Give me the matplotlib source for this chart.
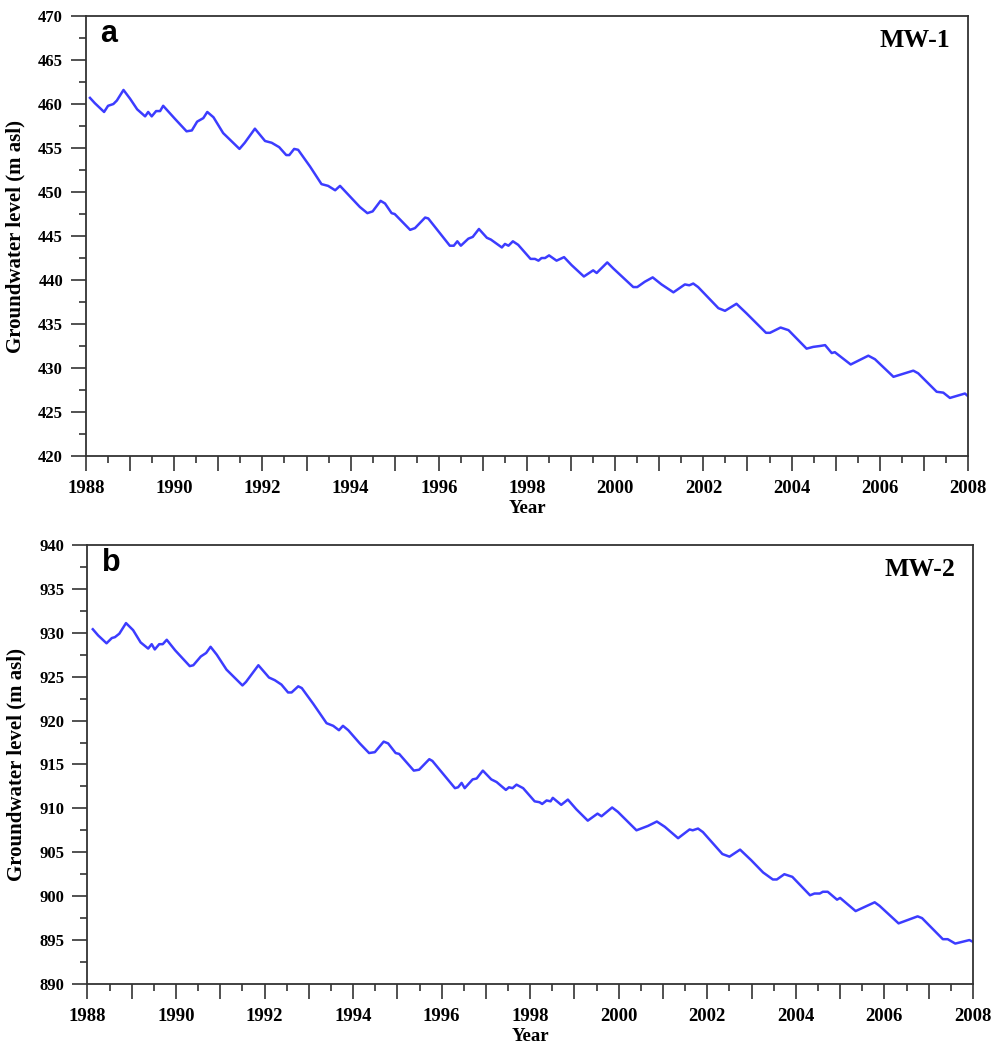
import matplotlib.pyplot as plt
from matplotlib.ticker import MultipleLocator

# ---------------------------------------------------------------------------
# Data (vertices of the hydrographs)
# ---------------------------------------------------------------------------
mw1_year = [1988.09, 1988.20, 1988.41, 1988.50, 1988.62, 1988.70, 1988.85, 1989.00,
            1989.16, 1989.34, 1989.41, 1989.49, 1989.59, 1989.68, 1989.75, 1989.84,
            1990.02, 1990.28, 1990.40, 1990.52, 1990.66, 1990.75, 1990.89, 1991.11,
            1991.48, 1991.60, 1991.83, 1992.06, 1992.21, 1992.38, 1992.54, 1992.61,
            1992.72, 1992.81, 1993.08, 1993.34, 1993.49, 1993.65, 1993.76, 1993.91,
            1994.21, 1994.38, 1994.50, 1994.68, 1994.78, 1994.93, 1995.00, 1995.35,
            1995.46, 1995.69, 1995.76, 1996.25, 1996.34, 1996.42, 1996.50, 1996.67,
            1996.77, 1996.91, 1997.09, 1997.18, 1997.43, 1997.50, 1997.58, 1997.68,
            1997.80, 1998.08, 1998.18, 1998.26, 1998.33, 1998.41, 1998.50, 1998.67,
            1998.84, 1999.01, 1999.29, 1999.50, 1999.58, 1999.82, 1999.96, 2000.41,
            2000.50, 2000.67, 2000.85, 2001.05, 2001.32, 2001.58, 2001.68, 2001.77,
            2001.88, 2002.34, 2002.49, 2002.75, 2002.98, 2003.42, 2003.51, 2003.75,
            2003.93, 2004.34, 2004.49, 2004.64, 2004.76, 2004.91, 2004.98, 2005.34,
            2005.74, 2005.89, 2006.31, 2006.76, 2006.87, 2007.29, 2007.44, 2007.59,
            2007.93, 2008.00]
mw1_level = [460.7, 460.1, 459.1, 459.8, 460.0, 460.4, 461.6, 460.6,
             459.4, 458.6, 459.1, 458.6, 459.2, 459.2, 459.8, 459.3,
             458.3, 456.9, 457.0, 458.0, 458.4, 459.1, 458.5, 456.7,
             454.9, 455.6, 457.2, 455.8, 455.6, 455.1, 454.2, 454.2,
             454.9, 454.8, 452.9, 450.9, 450.7, 450.2, 450.7, 449.9,
             448.3, 447.6, 447.8, 449.0, 448.7, 447.6, 447.5, 445.7,
             445.9, 447.1, 447.0, 443.9, 443.9, 444.4, 443.9, 444.7,
             444.9, 445.8, 444.8, 444.6, 443.7, 444.1, 443.9, 444.4,
             444.0, 442.4, 442.4, 442.2, 442.5, 442.5, 442.8, 442.2,
             442.6, 441.7, 440.4, 441.1, 440.8, 442.0, 441.3, 439.2,
             439.2, 439.8, 440.3, 439.5, 438.6, 439.5, 439.4, 439.6,
             439.2, 436.8, 436.5, 437.3, 436.2, 434.0, 434.0, 434.6,
             434.3, 432.2, 432.4, 432.5, 432.6, 431.7, 431.8, 430.4,
             431.4, 431.0, 429.0, 429.7, 429.4, 427.3, 427.2, 426.6,
             427.1, 426.8]

mw2_year = [1988.12, 1988.24, 1988.43, 1988.55, 1988.62, 1988.72, 1988.87, 1989.03,
            1989.20, 1989.37, 1989.45, 1989.52, 1989.62, 1989.70, 1989.79, 1989.98,
            1990.31, 1990.39, 1990.56, 1990.68, 1990.78, 1990.92, 1991.14, 1991.50,
            1991.58, 1991.86, 1992.10, 1992.23, 1992.38, 1992.53, 1992.61, 1992.76,
            1992.84, 1993.10, 1993.40, 1993.55, 1993.68, 1993.77, 1993.89, 1994.15,
            1994.36, 1994.49, 1994.69, 1994.79, 1994.96, 1995.04, 1995.37, 1995.49,
            1995.72, 1995.79, 1996.30, 1996.37, 1996.45, 1996.52, 1996.70, 1996.79,
            1996.93, 1997.12, 1997.24, 1997.45, 1997.52, 1997.60, 1997.69, 1997.84,
            1998.10, 1998.21, 1998.27, 1998.37, 1998.46, 1998.51, 1998.70, 1998.85,
            1999.04, 1999.30, 1999.52, 1999.61, 1999.85, 1999.98, 2000.40, 2000.66,
            2000.86, 2001.04, 2001.34, 2001.60, 2001.67, 2001.79, 2001.90, 2002.34,
            2002.50, 2002.74, 2002.99, 2003.26, 2003.48, 2003.57, 2003.74, 2003.92,
            2004.32, 2004.42, 2004.54, 2004.61, 2004.72, 2004.93, 2005.00, 2005.35,
            2005.78, 2005.89, 2006.32, 2006.75, 2006.85, 2007.32, 2007.43, 2007.60,
            2007.92, 2008.00]
mw2_level = [930.4, 929.7, 928.8, 929.4, 929.5, 929.9, 931.1, 930.3,
             928.9, 928.2, 928.7, 928.1, 928.7, 928.7, 929.2, 928.0,
             926.2, 926.3, 927.3, 927.7, 928.4, 927.5, 925.8, 924.0,
             924.4, 926.3, 924.9, 924.6, 924.1, 923.2, 923.2, 923.9,
             923.7, 921.9, 919.7, 919.4, 918.9, 919.4, 918.9, 917.4,
             916.3, 916.4, 917.6, 917.4, 916.3, 916.2, 914.3, 914.4,
             915.6, 915.4, 912.3, 912.4, 912.9, 912.3, 913.3, 913.4,
             914.3, 913.3, 913.0, 912.1, 912.4, 912.3, 912.7, 912.3,
             910.8, 910.7, 910.5, 910.9, 910.8, 911.2, 910.4, 911.0,
             909.9, 908.6, 909.4, 909.1, 910.1, 909.6, 907.5, 908.0,
             908.5, 907.9, 906.6, 907.6, 907.5, 907.7, 907.3, 904.8,
             904.5, 905.3, 904.1, 902.7, 901.9, 901.9, 902.5, 902.2,
             900.1, 900.3, 900.3, 900.5, 900.5, 899.6, 899.8, 898.3,
             899.3, 898.9, 896.9, 897.7, 897.5, 895.1, 895.1, 894.6,
             895.0, 894.8]

year_ticks = list(range(1988, 2009, 2))

panels = [
    dict(year=mw1_year, level=mw1_level, ylim=(420, 470), letter='a', well='MW-1',
         rect=[0.0867, 0.5653, 0.8891, 0.4194]),
    dict(year=mw2_year, level=mw2_level, ylim=(890, 940), letter='b', well='MW-2',
         rect=[0.0882, 0.0620, 0.8926, 0.4185]),
]

fig = plt.figure(figsize=(9.92, 10.49), dpi=100)
serif = 'Liberation Serif'

for p in panels:
    ax = fig.add_axes(p['rect'])
    ax.plot(p['year'], p['level'], color='#3c3cff', linewidth=1.8)

    ax.set_xlim(1988, 2008)
    ax.set_ylim(*p['ylim'])
    ax.xaxis.set_minor_locator(MultipleLocator(0.5))
    ax.yaxis.set_major_locator(MultipleLocator(5))
    ax.yaxis.set_minor_locator(MultipleLocator(2.5))
    ax.set_xticks(range(1988, 2009))
    ax.set_xticklabels([str(y) if y in year_ticks else '' for y in range(1988, 2009)])

    ax.tick_params(which='major', direction='out', length=10.5, width=1.2, color='#333333')
    ax.tick_params(which='minor', direction='out', length=5, width=1.2, color='#333333')
    ax.tick_params(axis='x', pad=7)
    ax.tick_params(axis='y', pad=6)
    for lab in ax.get_xticklabels():
        lab.set_fontfamily(serif)
        lab.set_fontweight('bold')
        lab.set_fontsize(13.5)
    for lab in ax.get_yticklabels():
        lab.set_fontfamily(serif)
        lab.set_fontweight('bold')
        lab.set_fontsize(12)

    for s in ax.spines.values():
        s.set_linewidth(1.3)
        s.set_color('#333333')

    ax.set_xlabel('Year', fontfamily=serif, fontweight='bold', fontsize=13.5, labelpad=2)
    ax.set_ylabel('Groundwater level (m asl)', fontfamily=serif, fontweight='bold',
                  fontsize=15, labelpad=9)

    ax.text(0.016, 0.94, p['letter'], transform=ax.transAxes, fontfamily='Liberation Sans',
            fontweight='bold', fontsize=22, va='baseline', ha='left')
    ax.text(0.98, 0.93, p['well'], transform=ax.transAxes, fontfamily=serif,
            fontweight='bold', fontsize=18.5, va='baseline', ha='right')

plt.savefig('out.png', dpi=100)
plt.close()
